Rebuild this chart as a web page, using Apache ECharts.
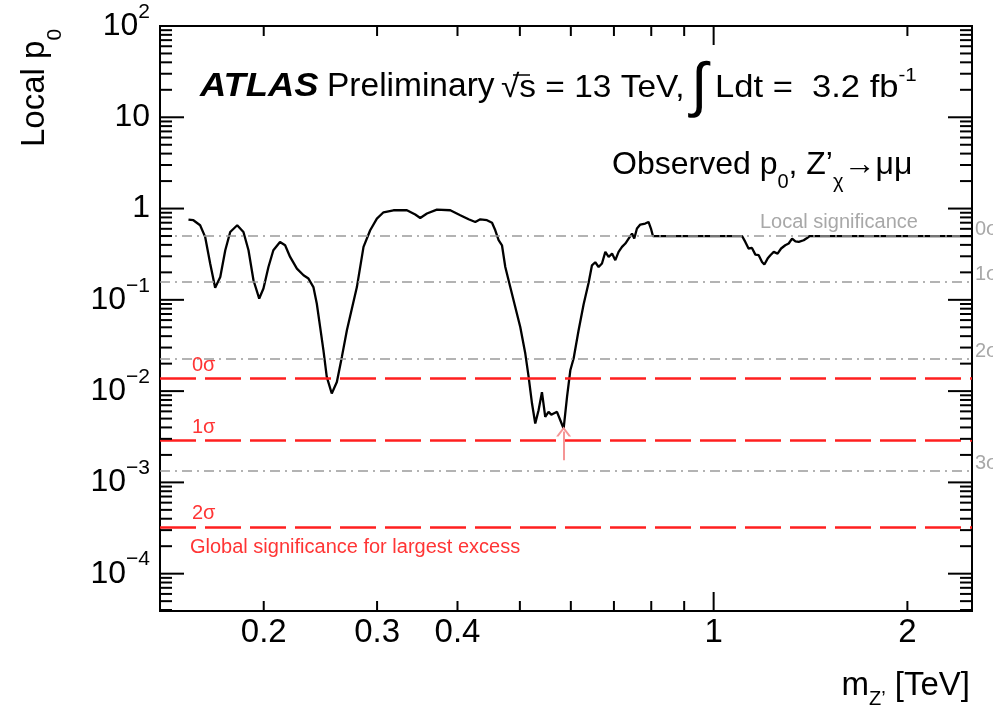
<!DOCTYPE html>
<html>
<head>
<meta charset="utf-8">
<script src="https://cdn.jsdelivr.net/npm/echarts@6/dist/echarts.min.js"></script>
<style>
  html, body { margin: 0; padding: 0; background: #ffffff; }
  #chart { width: 993px; height: 711px; }
</style>
</head>
<body>
<div id="chart"></div>
<script>
// Observed local p0 versus Z' mass (dimuon channel)
const massTeV = [
  0.1528, 0.1555, 0.1593, 0.1622, 0.1651, 0.1681, 0.1712, 0.1743, 0.1774, 0.1819,
  0.1860, 0.1894, 0.1928, 0.1968, 0.1998, 0.2034, 0.2070, 0.2120, 0.2159, 0.2198,
  0.2252, 0.2306, 0.2347, 0.2389, 0.2418, 0.2447, 0.2476, 0.2506, 0.2551, 0.2598,
  0.2645, 0.2693, 0.2791, 0.2858, 0.2927, 0.2998, 0.3070, 0.3181, 0.3338, 0.3439,
  0.3501, 0.3586, 0.3716, 0.3898, 0.4040, 0.4162, 0.4263, 0.4340, 0.4445, 0.4526,
  0.4579, 0.4634, 0.4690, 0.4746, 0.4831, 0.4918, 0.5007, 0.5098, 0.5159, 0.5222,
  0.5283, 0.5346, 0.5411, 0.5475, 0.5540, 0.5595, 0.5641, 0.5710, 0.5778, 0.5847,
  0.5919, 0.5989, 0.6060, 0.6169, 0.6281, 0.6394, 0.6471, 0.6548, 0.6627, 0.6707,
  0.6788, 0.6869, 0.6953, 0.7035, 0.7118, 0.7205, 0.7292, 0.7378, 0.7468, 0.7528,
  0.7601, 0.7692, 0.7829, 0.7922, 0.7991, 0.8048, 0.90, 1.00, 1.107, 1.120,
  1.133, 1.147, 1.161, 1.175, 1.189, 1.199, 1.213, 1.225, 1.240, 1.257,
  1.273, 1.292, 1.308, 1.324, 1.340, 1.356, 1.380, 1.397, 1.410, 1.60,
  2.00, 2.52
];
const localP0 = [
  0.758, 0.745, 0.656, 0.489, 0.252, 0.136, 0.178, 0.349, 0.554, 0.656,
  0.554, 0.349, 0.164, 0.1033, 0.133, 0.229, 0.349, 0.431, 0.396, 0.295,
  0.220, 0.186, 0.171, 0.138, 0.0911, 0.0505, 0.0281, 0.0143, 0.00942, 0.0126,
  0.0237, 0.0465, 0.138, 0.380, 0.578, 0.777, 0.911, 0.958, 0.958, 0.860,
  0.789, 0.882, 0.975, 0.958, 0.845, 0.763, 0.713, 0.763, 0.745, 0.699,
  0.578, 0.450, 0.396, 0.229, 0.138, 0.0836, 0.0505, 0.0258, 0.0143, 0.00731,
  0.00442, 0.00618, 0.00973, 0.00522, 0.00592, 0.00552, 0.00569, 0.00592, 0.0048, 0.00389,
  0.00864, 0.0169, 0.0228, 0.0465, 0.0895, 0.154, 0.239, 0.258, 0.229, 0.250,
  0.335, 0.295, 0.321, 0.272, 0.335, 0.380, 0.414, 0.469, 0.532, 0.469,
  0.604, 0.668, 0.685, 0.713, 0.604, 0.5, 0.5, 0.5, 0.5, 0.431,
  0.365, 0.370, 0.313, 0.308, 0.260, 0.244, 0.283, 0.308, 0.335, 0.321,
  0.365, 0.396, 0.414, 0.469, 0.438, 0.431, 0.450, 0.476, 0.5, 0.5,
  0.5, 0.5
];

// Local significance reference levels (one-sided p-values)
const localSigmaLevels = [0.5, 0.1587, 0.02275, 0.00135];
const localSigmaLabels = ['0σ', '1σ', '2σ', '3σ'];

// Local p0 needed for a given global significance of the largest excess
const globalSigmaLevels = [0.01374, 0.0029, 0.000326];
const globalSigmaLabels = ['0σ', '1σ', '2σ'];

// Arrow marking the largest excess: [mass, tail p0, tip p0]
const excessArrow = [0.5847, 0.00175, 0.0036];

// Axis labels
const xTickLabels = [0.2, 0.3, 0.4, 1, 2];
const yTickLabels = [1e-4, 1e-3, 1e-2, 1e-1, 1, 10, 100];

// Axis ranges
const xRange = [0.138, 2.52];
const yRange = [3.9e-5, 100];

const FONT = '"Liberation Sans", Arial, Helvetica, sans-serif';

// ROOT-style tick marks on all four sides of the frame
const tickItems = [];
[0.2, 0.3, 0.4, 0.5, 0.6, 0.7, 0.8, 0.9, 2].forEach(v => tickItems.push([v, 1, 0, 10]));
tickItems.push([1, 1, 0, 19]);
for (let e = -5; e <= 2; e++) {
  for (let k = 1; k <= 9; k++) {
    const v = k * Math.pow(10, e);
    if (v >= yRange[0] && v <= yRange[1]) tickItems.push([1, v, 1, k === 1 ? 24 : 12]);
  }
}

const chart = echarts.init(document.getElementById('chart'), null, { renderer: 'canvas' });

function yLabel(v) {
  const e = Math.round(Math.log10(v));
  if (e === 0) return '{b|1}';
  if (e === 1) return '{b|10}';
  return '{b|10}{e|' + (e < 0 ? '\u2212' : '') + Math.abs(e) + '}';
}

const option = {
  animation: false,
  backgroundColor: '#ffffff',
  grid: {
    left: 160, right: 21, top: 26, bottom: 100,
    show: true, borderColor: '#000000', borderWidth: 2, backgroundColor: 'transparent'
  },
  xAxis: {
    type: 'log', logBase: 10, min: xRange[0], max: xRange[1],
    axisLine: { show: false }, axisTick: { show: false },
    splitLine: { show: false }, minorTick: { show: false },
    axisLabel: {
      customValues: xTickLabels,
      formatter: v => String(v),
      fontFamily: FONT, fontSize: 33, lineHeight: 33, color: '#000000', margin: 5
    }
  },
  yAxis: {
    type: 'log', logBase: 10, min: yRange[0], max: yRange[1],
    axisLine: { show: false }, axisTick: { show: false },
    splitLine: { show: false }, minorTick: { show: false },
    axisLabel: {
      customValues: yTickLabels,
      formatter: yLabel,
      margin: 10,
      rich: {
        b: { fontFamily: FONT, fontSize: 32, lineHeight: 32, color: '#000000' },
        e: { fontFamily: FONT, fontSize: 21, lineHeight: 21, color: '#000000', padding: [0, 0, 28, 0] }
      }
    }
  },
  series: [
    {
      name: 'Observed p0',
      type: 'line',
      data: massTeV.map((m, i) => [m, localP0[i]]),
      showSymbol: false,
      lineStyle: { color: '#000000', width: 2.3 },
      z: 3
    },
    {
      name: 'Local significance',
      type: 'line',
      data: [],
      z: 4,
      markLine: {
        silent: true,
        precision: 10,
        symbol: 'none',
        lineStyle: { color: '#9a9a9a', width: 1.5, type: [10, 5, 2, 5] },
        label: {
          position: 'end', distance: 3,
          formatter: p => '{s|' + p.name + '}',
          rich: {
            s: { fontFamily: FONT, fontSize: 20, lineHeight: 20, color: '#a8a8a8', padding: [0, 0, 14, 0] }
          }
        },
        data: localSigmaLevels.map((v, i) => ({ yAxis: v, name: localSigmaLabels[i] }))
      }
    },
    {
      name: 'Global significance',
      type: 'line',
      data: [],
      z: 5,
      markLine: {
        silent: true,
        precision: 10,
        symbol: 'none',
        lineStyle: { color: '#ff1f1f', width: 2.5, type: [36, 9] },
        label: {
          position: 'insideStartTop', formatter: '{b}', distance: 3,
          fontFamily: FONT, fontSize: 20, color: '#ff3535', padding: [0, 0, 0, 29]
        },
        data: globalSigmaLevels.map((v, i) => ({ yAxis: v, name: globalSigmaLabels[i] }))
      }
    },
    {
      name: 'Largest excess',
      type: 'line',
      data: [],
      z: 6,
      markLine: {
        silent: true,
        precision: 10,
        symbol: ['none', 'path://M0,10 L5,0 L10,10 L8.4,10 L5,3.2 L1.6,10 Z'],
        symbolSize: [15, 10],
        lineStyle: { color: '#f59595', width: 2, type: 'solid' },
        label: { show: false },
        data: [[{ coord: [excessArrow[0], excessArrow[1]] }, { coord: [excessArrow[0], excessArrow[2]] }]]
      }
    },
    {
      name: 'ticks',
      type: 'custom',
      data: tickItems,
      encode: { x: 0, y: 1 },
      clip: false,
      silent: true,
      z: 7,
      renderItem: function (params, api) {
        const cs = params.coordSys;
        const len = api.value(3);
        const style = { stroke: '#000000', lineWidth: 2 };
        if (api.value(2) === 0) {
          const px = api.coord([api.value(0), 1])[0];
          return {
            type: 'group', children: [
              { type: 'line', shape: { x1: px, y1: cs.y + cs.height, x2: px, y2: cs.y + cs.height - len }, style: style },
              { type: 'line', shape: { x1: px, y1: cs.y, x2: px, y2: cs.y + len }, style: style }
            ]
          };
        }
        const py = api.coord([1, api.value(1)])[1];
        return {
          type: 'group', children: [
            { type: 'line', shape: { x1: cs.x, y1: py, x2: cs.x + len, y2: py }, style: style },
            { type: 'line', shape: { x1: cs.x + cs.width - len, y1: py, x2: cs.x + cs.width, y2: py }, style: style }
          ]
        };
      }
    }
  ],
  graphic: [
    {
      type: 'text', x: 35, y: 147, rotation: Math.PI / 2,
      style: {
        text: '{n|Local p}{s|0}', align: 'left', verticalAlign: 'middle',
        rich: {
          n: { fontFamily: FONT, fontSize: 33, lineHeight: 33, fill: '#000000' },
          s: { fontFamily: FONT, fontSize: 21, lineHeight: 21, fill: '#000000', padding: [40, 0, 0, 0] }
        }
      }
    },
    {
      type: 'text', x: 200, y: 86.5, scaleX: 1.07,
      style: { text: 'ATLAS', fontFamily: FONT, fontSize: 34, fontWeight: 'bold', fontStyle: 'italic', fill: '#000000', verticalAlign: 'middle' }
    },
    {
      type: 'text', x: 327, y: 86.5,
      style: { text: 'Preliminary', fontFamily: FONT, fontSize: 33.5, fill: '#000000', verticalAlign: 'middle' }
    },
    {
      type: 'text', x: 501, y: 88.5, scaleX: 1.045,
      style: { text: '\u221As = 13 TeV,', fontFamily: FONT, fontSize: 32, fill: '#000000', verticalAlign: 'middle' }
    },
    {
      // overbar of the square root
      type: 'line', shape: { x1: 513, y1: 75, x2: 530, y2: 75 },
      style: { stroke: '#000000', lineWidth: 1.5 }
    },
    {
      type: 'text', x: 691, y: 88,
      style: { text: '\u222B', fontFamily: FONT, fontSize: 60, fill: '#000000', verticalAlign: 'middle' }
    },
    {
      type: 'text', x: 715, y: 88.5, scaleX: 1.08,
      style: {
        text: '{n|Ldt =  3.2 fb}{u|-1}', verticalAlign: 'middle',
        rich: {
          n: { fontFamily: FONT, fontSize: 32, lineHeight: 32, fill: '#000000' },
          u: { fontFamily: FONT, fontSize: 19, lineHeight: 19, fill: '#000000', padding: [0, 0, 26, 0] }
        }
      }
    },
    {
      type: 'text', x: 612, y: 165,
      style: {
        text: '{n|Observed p}{s|0}{n|, Z\u2019}{s|\u03C7}{n|\u2192\u03BC\u03BC}', verticalAlign: 'middle',
        rich: {
          n: { fontFamily: FONT, fontSize: 32, lineHeight: 32, fill: '#000000' },
          s: { fontFamily: FONT, fontSize: 20, lineHeight: 20, fill: '#000000', padding: [34, 0, 0, 0] }
        }
      }
    },
    {
      type: 'text', x: 970, y: 685.5,
      style: {
        text: '{n|m}{s|Z\u2019}{n| [TeV]}', align: 'right', verticalAlign: 'middle',
        rich: {
          n: { fontFamily: FONT, fontSize: 33, lineHeight: 33, fill: '#000000' },
          s: { fontFamily: FONT, fontSize: 20, lineHeight: 20, fill: '#000000', padding: [28, 0, 0, 0] }
        }
      }
    },
    {
      type: 'text', x: 760, y: 222,
      style: { text: 'Local significance', fontFamily: FONT, fontSize: 20, fill: '#a8a8a8', verticalAlign: 'middle' }
    },
    {
      type: 'text', x: 190, y: 547,
      style: { text: 'Global significance for largest excess', fontFamily: FONT, fontSize: 20, fill: '#ff3535', verticalAlign: 'middle' }
    }
  ]
};

chart.setOption(option);
</script>
</body>
</html>
